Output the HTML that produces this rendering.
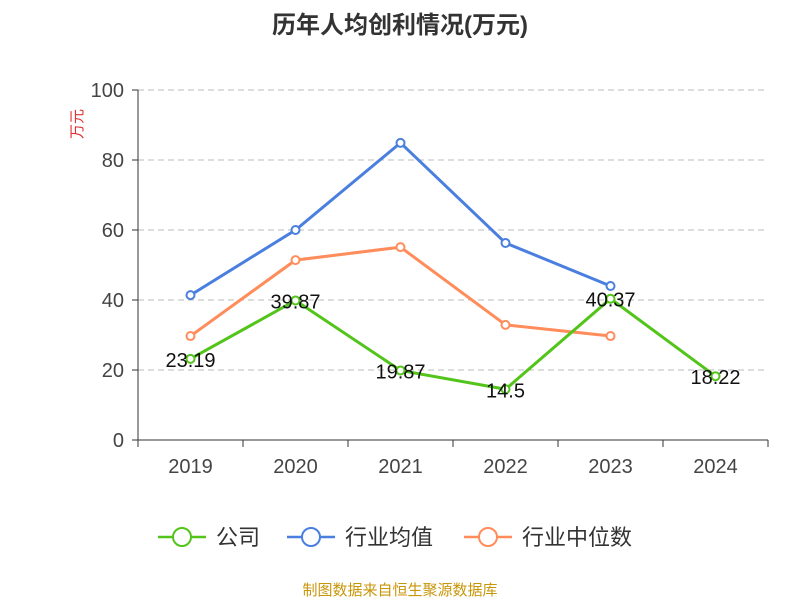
<!DOCTYPE html>
<html><head><meta charset="utf-8"><style>
body{margin:0;background:#fff;}
svg text{font-family:"Liberation Sans","Noto Sans CJK SC",sans-serif;}
</style></head><body>
<svg id="chart" width="800" height="600" xmlns="http://www.w3.org/2000/svg">
<text x="400" y="33" text-anchor="middle" font-size="24" font-weight="bold" fill="#333">历年人均创利情况(万元)</text>
<text x="0" y="0" transform="translate(82,124) rotate(-90)" text-anchor="middle" font-size="15" fill="#e03030">万元</text>
<g id="grid"></g><g id="axes"></g><g id="series"></g>
<g>
<g><line x1="158" y1="537" x2="206" y2="537" stroke="#52c41a" stroke-width="2.5"/><circle cx="182" cy="537" r="9" fill="#fff" stroke="#52c41a" stroke-width="2"/><text x="216" y="545" font-size="22" fill="#333">公司</text></g>
<g><line x1="287" y1="537" x2="335" y2="537" stroke="#4a7fe0" stroke-width="2.5"/><circle cx="311" cy="537" r="9" fill="#fff" stroke="#4a7fe0" stroke-width="2"/><text x="345" y="545" font-size="22" fill="#333">行业均值</text></g>
<g><line x1="464" y1="537" x2="512" y2="537" stroke="#ff8c5a" stroke-width="2.5"/><circle cx="488" cy="537" r="9" fill="#fff" stroke="#ff8c5a" stroke-width="2"/><text x="522" y="545" font-size="22" fill="#333">行业中位数</text></g>
</g>
<text x="400" y="595" text-anchor="middle" font-size="15" fill="#c8960a">制图数据来自恒生聚源数据库</text>
</svg>
<script>
const categories=["2019","2020","2021","2022","2023","2024"];
const companyValues=[23.19,39.87,19.87,14.5,40.37,18.22];
const avgValues=[41.4,60,84.9,56.3,44];
const medianValues=[29.7,51.4,55.1,32.9,29.7];
const yTicks=[0,20,40,60,80,100];
const NS="http://www.w3.org/2000/svg";
const x0=138,x1=768,y0=440,y1=90;
const band=(x1-x0)/categories.length;
const xs=i=>x0+band*(i+0.5);
const ys=v=>y0-(v/100)*(y0-y1);
function mk(tag,attrs,parent){const e=document.createElementNS(NS,tag);for(const k in attrs)e.setAttribute(k,attrs[k]);parent.appendChild(e);return e;}
const grid=document.getElementById('grid'),axes=document.getElementById('axes'),ser=document.getElementById('series');
yTicks.forEach(t=>{
 if(t>0){const l=mk('line',{x1:x0,x2:x1,y1:ys(t),y2:ys(t),stroke:'#bbb','stroke-dasharray':'6,4'},grid);
 
 }
 const tx=mk('text',{x:x0-14,y:ys(t)+7,'text-anchor':'end','font-size':20,fill:'#444'},axes);tx.textContent=t;
 
 
 const tk=mk('line',{x1:x0-6,x2:x0,y1:ys(t),y2:ys(t),stroke:'#333'},axes);
 
 
});
const ya=mk('line',{x1:x0,x2:x0,y1:y1,y2:y0,stroke:'#333'},axes);


const xa=mk('line',{x1:x0,x2:x1,y1:y0,y2:y0,stroke:'#333'},axes);


for(let i=0;i<=categories.length;i++){const tk=mk('line',{x1:x0+band*i,x2:x0+band*i,y1:y0,y2:y0+7,stroke:'#333'},axes);
 
 }
categories.forEach((c,i)=>{const t=mk('text',{x:xs(i),y:473,'text-anchor':'middle','font-size':20,fill:'#444'},axes);t.textContent=c;
 
 });
function series(vals,color,name,labels){
 const g=mk('g',{},ser);
 
 
 const p=mk('polyline',{points:vals.map((v,i)=>xs(i)+','+ys(v)).join(' '),fill:'none',stroke:color,'stroke-width':3},g);
 
 
 vals.forEach((v,i)=>{const c=mk('circle',{cx:xs(i),cy:ys(v),r:4,fill:'#fff',stroke:color,'stroke-width':2},g);
  
  
  if(labels){const t=mk('text',{x:xs(i),y:ys(v)+8,'text-anchor':'middle','font-size':20,fill:'#111'},g);t.textContent=v;
   
   }
 });
}
series(medianValues,'#ff8c5a','industry-median-series',false);
series(avgValues,'#4a7fe0','industry-average-series',false);
series(companyValues,'#52c41a','company-series',true);
</script>
</body></html>
